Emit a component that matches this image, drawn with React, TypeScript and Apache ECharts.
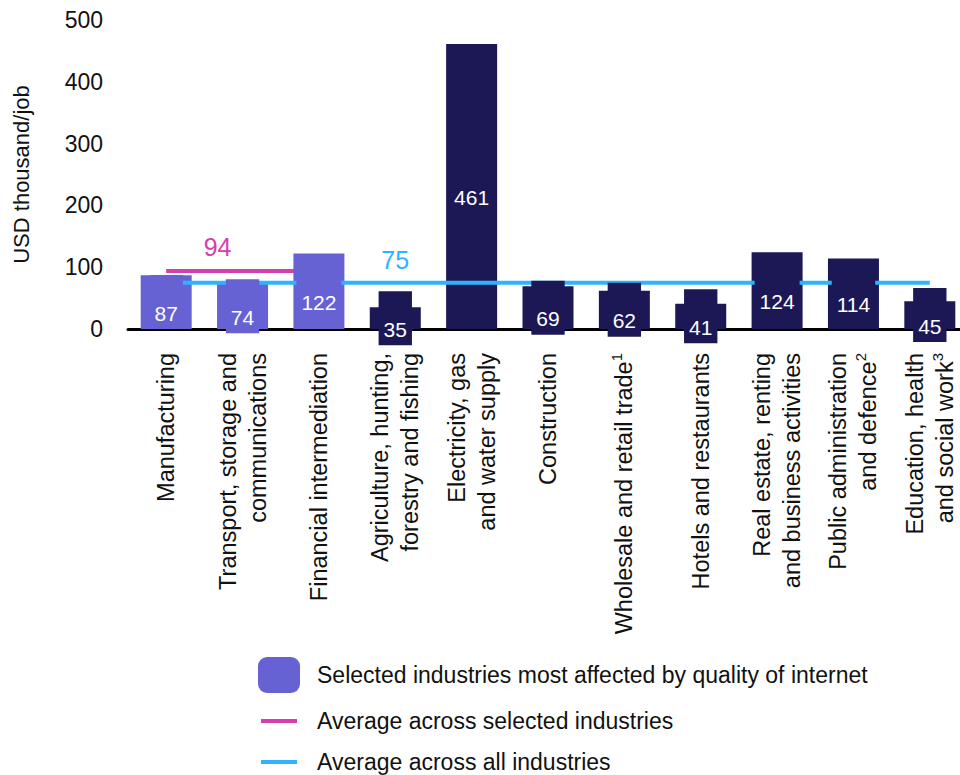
import React, { useEffect, useRef } from "react";
import * as echarts from "echarts";

const categories = [
  "Manufacturing",
  "Transport, storage and\ncommunications",
  "Financial intermediation",
  "Agriculture, hunting,\nforestry and fishing",
  "Electricity, gas\nand water supply",
  "Construction",
  "Wholesale and retail trade{sup|1}",
  "Hotels and restaurants",
  "Real estate, renting\nand business activities",
  "Public administration\nand defence{sup|2}",
  "Education, health\nand social work{sup|3}",
];
const values = [87, 74, 122, 35, 461, 69, 62, 41, 124, 114, 45];
const selectedFlags = [true, true, true, false, false, false, false, false, false, false, false];
const selectedAverage: (number | string)[] = [94, 94, 94, "-", "-", "-", "-", "-", "-", "-", "-"];
const allAverage = [75, 75, 75, 75, 75, 75, 75, 75, 75, 75, 75];
const yMin = 0;
const yMax = 500;
const yInterval = 100;

const SEL_NAME = "Selected industries most affected by quality of internet";
const PINK_NAME = "Average across selected industries";
const BLUE_NAME = "Average across all industries";

const PURPLE = "#6762D3";
const NAVY = "#1C1856";
const PINK = "#D63DAE";
const BLUE = "#2FB3FF";
const FONT = "Liberation Sans";

export default function App() {
  const ref = useRef<HTMLDivElement>(null);
  useEffect(() => {
    document.body.style.margin = "0";
    document.body.style.overflow = "hidden";
    const chart = echarts.init(ref.current!, null, { renderer: "svg" });
    const colorOf = (i: number) => (selectedFlags[i] ? PURPLE : NAVY);
    const legendText = { fontSize: 23, lineHeight: 26, color: "#111", fontFamily: FONT };
    chart.setOption({
      animation: false,
      textStyle: { fontFamily: FONT },
      grid: { left: 128, width: 840, top: 20, height: 309, containLabel: false },
      xAxis: {
        type: "category",
        data: categories,
        axisLine: { show: true, lineStyle: { color: "#000", width: 3 } },
        axisTick: { show: false },
        axisLabel: {
          rotate: 90,
          interval: 0,
          margin: 24,
          fontSize: 23.5,
          lineHeight: 30,
          color: "#111",
          fontFamily: FONT,
          rich: {
            sup: { fontSize: 15, lineHeight: 18, verticalAlign: "top", color: "#111", fontFamily: FONT },
          },
        },
      },
      yAxis: {
        type: "value",
        min: yMin,
        max: yMax,
        interval: yInterval,
        splitLine: { show: false },
        axisLine: { show: false },
        axisTick: { show: false },
        axisLabel: { fontSize: 23, color: "#111", margin: 25, fontFamily: FONT },
        name: "USD thousand/job",
        nameLocation: "middle",
        nameRotate: 90,
        nameGap: 96,
        nameTextStyle: { fontSize: 22, color: "#111", fontFamily: FONT },
      },
      legend: [
        {
          data: [{ name: SEL_NAME, icon: "roundRect" }],
          left: 258,
          top: 657,
          padding: 0,
          itemWidth: 42,
          itemHeight: 36,
          textStyle: { ...legendText, padding: [0, 0, 0, 12] },
          selectedMode: false,
        },
        {
          data: [{ name: PINK_NAME, icon: "rect" }],
          left: 261,
          top: 708,
          padding: 0,
          itemWidth: 36,
          itemHeight: 4,
          textStyle: { ...legendText, padding: [0, 0, 0, 15] },
          selectedMode: false,
        },
        {
          data: [{ name: BLUE_NAME, icon: "rect" }],
          left: 261,
          top: 749,
          padding: 0,
          itemWidth: 36,
          itemHeight: 4,
          textStyle: { ...legendText, padding: [0, 0, 0, 15] },
          selectedMode: false,
        },
      ],
      series: [
        {
          name: PINK_NAME,
          type: "line",
          z: 1,
          data: selectedAverage.map((v, i) =>
            i === 1
              ? {
                  value: v,
                  label: {
                    show: true,
                    position: "top",
                    distance: 11,
                    offset: [-25, 0],
                    fontSize: 25,
                    color: PINK,
                    formatter: "{c}",
                  },
                }
              : v
          ),
          symbol: "circle",
          symbolSize: 0,
          showSymbol: true,
          color: PINK,
          lineStyle: { color: PINK, width: 4, cap: "butt" },
          label: { show: false },
          emphasis: { disabled: true },
        },
        {
          name: SEL_NAME,
          type: "bar",
          z: 2,
          barWidth: 51,
          barGap: "-100%",
          itemStyle: { color: PURPLE },
          data: values.map((v, i) => ({ value: v, itemStyle: { color: colorOf(i) } })),
          emphasis: { disabled: true },
        },
        {
          name: BLUE_NAME,
          type: "line",
          z: 3,
          data: allAverage.map((v, i) =>
            i === 3
              ? {
                  value: v,
                  label: {
                    show: true,
                    position: "top",
                    distance: 10,
                    fontSize: 25,
                    color: BLUE,
                    formatter: "{c}",
                  },
                }
              : v
          ),
          symbol: "circle",
          symbolSize: 0,
          showSymbol: true,
          color: BLUE,
          lineStyle: { color: BLUE, width: 4, cap: "butt" },
          label: { show: false },
          emphasis: { disabled: true },
        },
        {
          name: "labels",
          type: "bar",
          z: 4,
          barWidth: 51,
          barGap: "-100%",
          itemStyle: { color: "rgba(0,0,0,0)" },
          data: values.map((v, i) => ({
            value: v,
            label: { backgroundColor: colorOf(i) },
          })),
          label: {
            show: true,
            position: "inside",
            color: "#fff",
            padding: [6, 5, 6, 5],
            formatter: (p: any) => `{gap| }\n{v|${p.value}}`,
            fontFamily: FONT,
            rich: {
              gap: { fontSize: 10, lineHeight: 22 },
              v: { fontSize: 21, lineHeight: 20, color: "#fff", fontFamily: FONT },
            },
          },
          emphasis: { disabled: true },
        },
      ],
    });
    return () => chart.dispose();
  }, []);
  return <div ref={ref} style={{ width: 976, height: 775 }} />;
}
